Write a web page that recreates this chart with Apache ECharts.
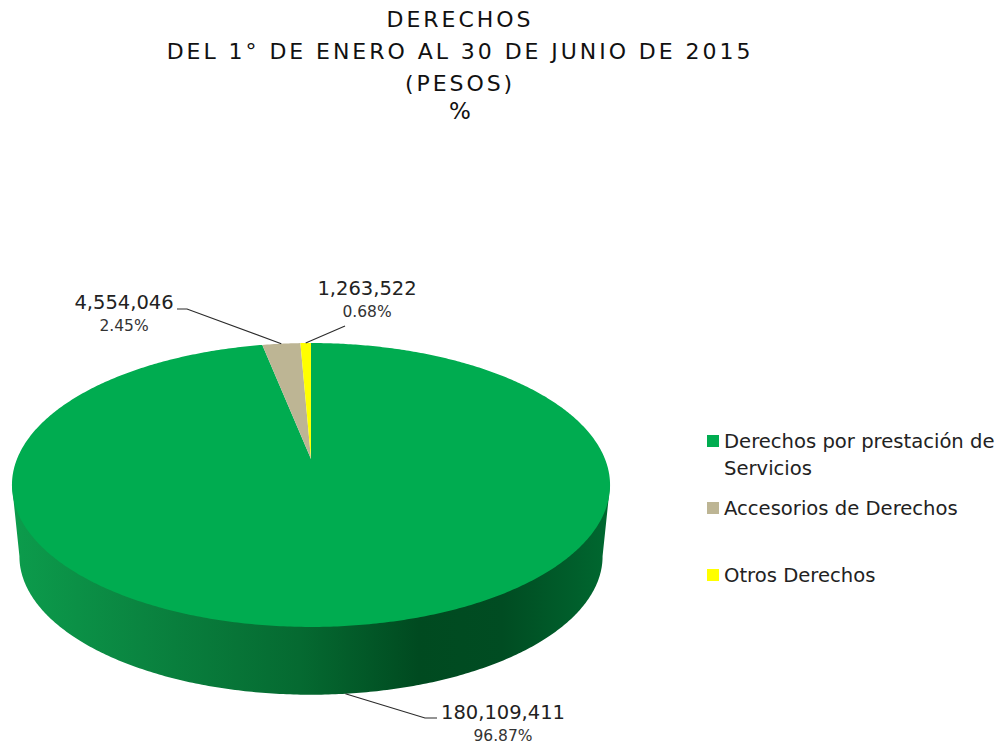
<!DOCTYPE html>
<html><head><meta charset="utf-8">
<style>
html,body{margin:0;padding:0;background:#fff}
#c{width:1001px;height:747px}
#c text[style*="22px"]{letter-spacing:2.95px}
</style>
<script src="https://cdn.jsdelivr.net/npm/echarts@6/dist/echarts.min.js"></script>
</head><body><div id="c"></div>
<script>
const titleLines = ['DERECHOS','DEL 1° DE ENERO AL 30 DE JUNIO DE 2015','(PESOS)'];
const titleUnit = '%';
const categories = ['Derechos por prestación de Servicios','Accesorios de Derechos','Otros Derechos'];
const legendFirstLines = ['Derechos por prestación de','Accesorios de Derechos','Otros Derechos'];
const legendSecondLine = 'Servicios';
const values = [180109411,4554046,1263522];
const percentLabels = ['96.87%','2.45%','0.68%'];
const colors = ['#00AC50','#BDB594','#FFFF00'];

const FONT = '"DejaVu Sans", sans-serif';
const total = values.reduce((a,b)=>a+b,0);
const starts = []; { let s = 0; values.forEach(v=>{ starts.push(s/total*2*Math.PI); s += v; }); }
const ends = values.map((v,i)=>starts[i]+v/total*2*Math.PI);

// projected disc: a circle seen in perspective (the hub is not the ellipse centre)
const hub = {x:311,y:459}, K = -0.183, AX = 294, BY = 137.2;
const DEPTH = 72, BASE_SCALE = 0.975;
function rim(t){
  const u = Math.sin(t), v = -Math.cos(t), d = 1+K*v;
  return [AX*u/d, BY*v/d];
}
const topPt = t => { const p = rim(t); return [hub.x+p[0], hub.y+p[1]]; };
const basePt = t => { const p = rim(t); return [hub.x+p[0]*BASE_SCALE, hub.y+DEPTH+p[1]*BASE_SCALE]; };
function arc(fn,a,b){ const n = Math.max(2,Math.ceil(Math.abs(b-a)/0.01)), out = [];
  for(let i=0;i<=n;i++) out.push(fn(a+(b-a)*i/n)); return out; }

const leaders = [
  {from:'base', knee:[425,718], end:[437,718], label:[503,712], pct:[503,736]},
  {from:'top',  knee:[187,309], end:[177,309], label:[124,302], pct:[124,326]},
  {from:'top',  knee:[345,326], end:[345,326], label:[367,288], pct:[367,312]}
];
const wallGradient = {type:'linear',x:12,y:0,x2:610,y2:0,global:true,colorStops:[
  {offset:0,color:'#0C9C4C'},{offset:0.22,color:'#0A8440'},{offset:0.48,color:'#056A31'},
  {offset:0.68,color:'#004A20'},{offset:0.82,color:'#004C22'},{offset:1,color:'#006830'}]};

function renderSlice(i){
  const kids = [];
  if(i===0){
    const tA = Math.acos(K);
    const base = arc(basePt,tA,2*Math.PI-tA);
    kids.push({type:'polygon',shape:{points:[topPt(tA)].concat(base,[topPt(2*Math.PI-tA)])},style:{fill:wallGradient}});
  }
  kids.push({type:'polygon',shape:{points:[[hub.x,hub.y]].concat(arc(topPt,starts[i],ends[i]))},style:{fill:colors[i]}});
  const L = leaders[i], mid = (starts[i]+ends[i])/2;
  const p0 = L.from==='base' ? basePt(mid) : topPt(mid);
  kids.push({type:'polyline',shape:{points:[p0,L.knee,L.end]},style:{stroke:'#2b2b2b',lineWidth:1.2,fill:null}});
  kids.push({type:'text',x:L.label[0],y:L.label[1],style:{text:values[i].toLocaleString('en-US'),
    font:'19.5px '+FONT,fill:'#222',align:'center',verticalAlign:'middle'}});
  kids.push({type:'text',x:L.pct[0],y:L.pct[1],style:{text:percentLabels[i],
    font:'15.5px '+FONT,fill:'#333',align:'center',verticalAlign:'middle'}});
  return {type:'group',children:kids};
}

const titleTops = [8,40,72];
const legendTops = [431,498,565];
const chart = echarts.init(document.getElementById('c'),null,{renderer:'svg'});
chart.setOption({
  animation:false,
  title: titleLines.map((t,i)=>({text:t,left:460,top:titleTops[i],textAlign:'center',padding:0,
      textStyle:{fontFamily:FONT,fontSize:22,fontWeight:'normal',color:'#111'}}))
    .concat([{text:titleUnit,left:460,top:99,textAlign:'center',padding:0,
      textStyle:{fontFamily:FONT,fontSize:23,fontWeight:'normal',color:'#111'}}]),
  legend: categories.map((c,i)=>({
    data:[c],left:707,top:legendTops[i],orient:'vertical',padding:0,
    icon:'rect',itemWidth:12,itemHeight:12,itemGap:0,selectedMode:false,
    formatter:()=>legendFirstLines[i],
    textStyle:{fontFamily:FONT,fontSize:19.6,color:'#222'}
  })),
  graphic:[{type:'text',left:724,top:458,style:{text:legendSecondLine,font:'19.6px '+FONT,fill:'#222'}}],
  series: categories.map((c,i)=>({
    type:'custom',name:c,coordinateSystem:'none',silent:true,
    itemStyle:{color:colors[i]},
    data:[[values[i]]],
    renderItem:()=>renderSlice(i)
  }))
});
</script></body></html>
